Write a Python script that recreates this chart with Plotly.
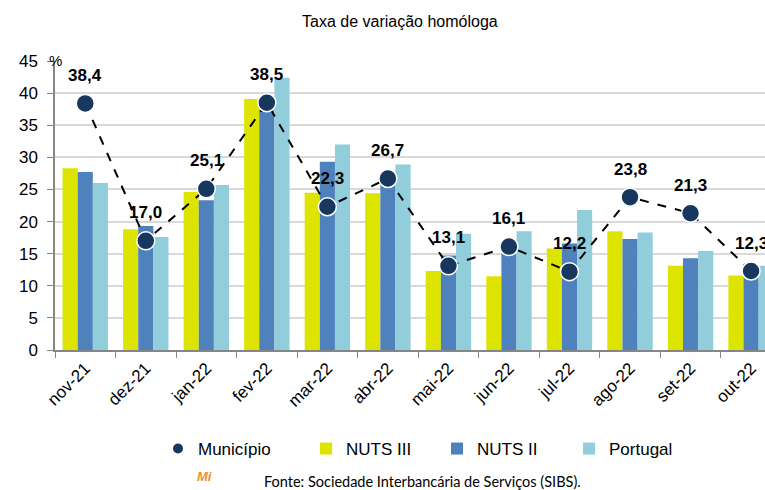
import plotly.graph_objects as go

categories = ["nov-21", "dez-21", "jan-22", "fev-22", "mar-22", "abr-22",
              "mai-22", "jun-22", "jul-22", "ago-22", "set-22", "out-22"]
municipio = [38.4, 17.0, 25.1, 38.5, 22.3, 26.7, 13.1, 16.1, 12.2, 23.8, 21.3, 12.3]
nuts3 = [28.3, 18.8, 24.6, 39.1, 24.5, 24.4, 12.3, 11.5, 15.8, 18.5, 13.1, 11.6]
nuts2 = [27.7, 19.3, 23.3, 38.0, 29.3, 26.3, 14.7, 15.0, 16.6, 17.3, 14.3, 12.6]
portugal = [26.0, 17.6, 25.7, 42.4, 32.0, 28.9, 18.1, 18.5, 21.8, 18.3, 15.4, 13.1]
y_ticks = [0, 5, 10, 15, 20, 25, 30, 35, 40, 45]

FONT = "Liberation Sans, Arial, sans-serif"
fig = go.Figure()

for name, vals, col, lg in [("NUTS III", nuts3, "#DDE400", "legend2"),
                            ("NUTS II", nuts2, "#4F81BD", "legend3"),
                            ("Portugal", portugal, "#92CDDC", "legend4")]:
    fig.add_trace(go.Bar(x=categories, y=vals, name=name, marker_color=col,
                         marker_line_width=0, legend=lg, showlegend=True))

fig.add_trace(go.Scatter(
    x=categories, y=municipio, name="Município", mode="lines",
    line=dict(color="#000000", width=2, dash="dash"), showlegend=False,
    cliponaxis=False))
fig.add_trace(go.Scatter(
    x=categories, y=municipio, name="Município", mode="markers",
    marker=dict(size=18, color="#17375E", line=dict(color="white", width=1.5)),
    legend="legend", showlegend=True, cliponaxis=False))

for c, v in zip(categories, municipio):
    fig.add_annotation(x=c, y=v, text=f"<b>{v:.1f}</b>".replace(".", ","),
                       showarrow=False, yshift=28, xref="x", yref="y",
                       font=dict(family=FONT, size=17, color="#000000"))

fig.add_annotation(x=0, y=1, xref="paper", yref="paper", text="%", showarrow=False,
                   xanchor="center", yanchor="middle", yshift=1,
                   font=dict(family=FONT, size=15, color="#000"))
fig.add_annotation(x=(400 - 55) / 710, y=(350 - 22) / 289, xref="paper", yref="paper",
                   text="Taxa de variação homóloga", showarrow=False,
                   xanchor="center", yanchor="middle",
                   font=dict(family=FONT, size=16, color="#000"))
fig.add_annotation(x=(262 - 55) / 710, y=(350 - 481) / 289, xref="paper", yref="paper",
                   text="Fonte: Sociedade Interbancária de Serviços (SIBS).", showarrow=False,
                   xanchor="left", yanchor="middle",
                   font=dict(family="Lato, Open Sans, sans-serif", size=14.5, color="#000"))
fig.add_annotation(x=(204 - 55) / 710, y=(350 - 476) / 289, xref="paper", yref="paper",
                   text="<b><i>Mi</i></b>", showarrow=False,
                   xanchor="center", yanchor="middle",
                   font=dict(family=FONT, size=13, color="#E8912C"))

leg_y = (350 - 449) / 289
def leg(px):
    return dict(orientation="h", x=(px - 55) / 710, y=leg_y, xanchor="left",
                yanchor="middle", font=dict(size=17), itemwidth=30,
                itemsizing="constant", bgcolor="rgba(0,0,0,0)")

fig.update_layout(
    width=765, height=490,
    margin=dict(l=55, r=0, t=61, b=140),
    plot_bgcolor="white", paper_bgcolor="white",
    barmode="group", bargap=0.25, bargroupgap=0,
    showlegend=True,
    font=dict(family=FONT, size=16, color="#000"),
    legend=leg(158), legend2=leg(306), legend3=leg(437), legend4=leg(569),
    xaxis=dict(type="category", range=[-0.5, 11.23], tickangle=-45,
               showline=True, linecolor="#868686", linewidth=1.5,
               ticks="outside", tickson="boundaries", ticklen=6, tickcolor="#868686",
               tickfont=dict(size=17), showgrid=False),
    yaxis=dict(range=[0, 45], tickvals=y_ticks, showline=True, linecolor="#868686",
               linewidth=1.5, ticks="outside", ticklen=6, tickcolor="#868686",
               gridcolor="#D9D9D9", gridwidth=1.5, tickfont=dict(size=17),
               ticklabelstandoff=6, zeroline=False),
)

fig.write_html("out.html")
